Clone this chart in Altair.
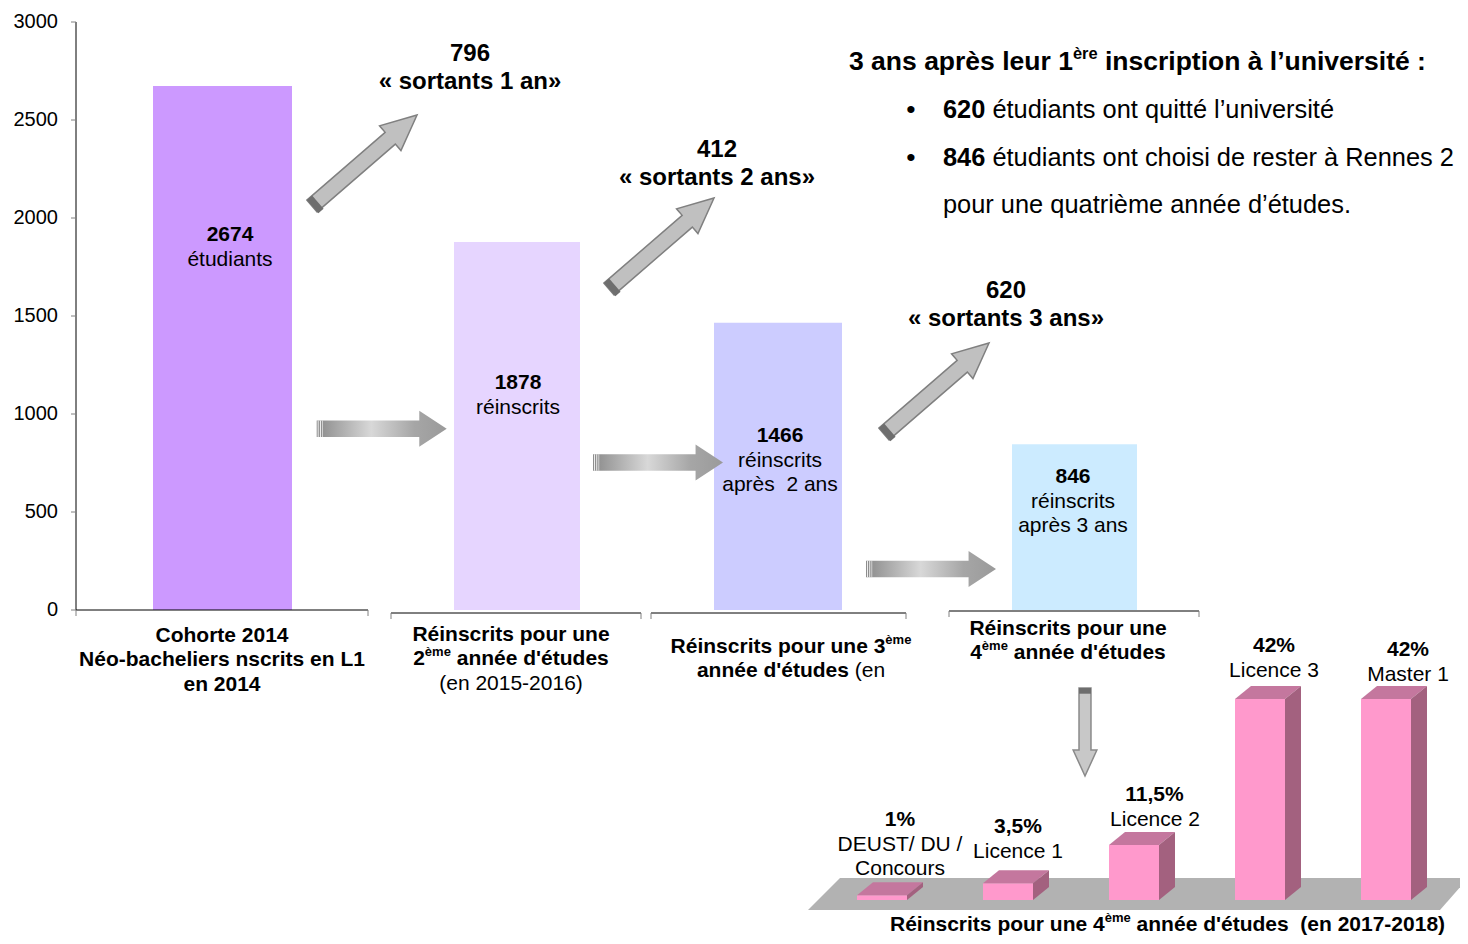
import unicodedata
import altair as alt
import pandas as pd

# ------------------------------------------------------------------ data
stage_values = [2674, 1878, 1466, 846]
stage_words = [["étudiants"], ["réinscrits"], ["réinscrits", "après\u00a0 2 ans"], ["réinscrits", "après 3 ans"]]
exit_values = [796, 412, 620]
exit_years = ["1 an", "2 ans", "3 ans"]
y_ticks = [0, 500, 1000, 1500, 2000, 2500, 3000]
level_names = [["DEUST/ DU /", "Concours"], ["Licence 1"], ["Licence 2"], ["Licence 3"], ["Master 1"]]
level_pcts = [1, 3.5, 11.5, 42, 42]
left_count = 620
stay_count = 846

# ------------------------------------------------------------------ styles / layout
FONT = "Liberation Sans"
stage_colors = ["#CC99FF", "#E6D5FF", "#CCCCFF", "#CCEBFF"]
BAR_X = [(153, 292), (454, 580), (714, 842), (1012, 1137)]
LVL_X = [857, 983, 1109, 1235, 1361]
LVL_W = 50
DEPTH_X = 16
PX_PER_PCT = 201 / 42
DEPTH_Y = 13 / PX_PER_PCT

X_SCALE = alt.Scale(domain=[76, 1460], nice=False, zero=False)
Y_MAIN = alt.Scale(domain=[-(936 - 610) / 0.196, (610 - 8) / 0.196], nice=False, zero=False)
Y_PCT = alt.Scale(domain=[-(936 - 900) / PX_PER_PCT, (900 - 8) / PX_PER_PCT], nice=False, zero=False)
Y_PX = alt.Scale(domain=[936, 8], nice=False, zero=False)

_REG = {" ": 278, "\u00a0": 278, "'": 191, "’": 222, "(": 333, ")": 333, ",": 278, "-": 333, ".": 278,
        "/": 278, ":": 278, "%": 889, "«": 556, "»": 556, "•": 350,
        "A": 667, "B": 667, "C": 722, "D": 722, "E": 667, "F": 611, "G": 778, "H": 722, "I": 278, "J": 500,
        "K": 667, "L": 556, "M": 833, "N": 722, "O": 778, "P": 667, "Q": 778, "R": 722, "S": 667, "T": 611,
        "U": 722, "V": 667, "W": 944, "X": 667, "Y": 667, "Z": 611,
        "a": 556, "b": 556, "c": 500, "d": 556, "e": 556, "f": 278, "g": 556, "h": 556, "i": 222, "j": 222,
        "k": 500, "l": 222, "m": 833, "n": 556, "o": 556, "p": 556, "q": 556, "r": 333, "s": 500, "t": 278,
        "u": 556, "v": 500, "w": 722, "x": 500, "y": 500, "z": 500}
_BOLD = {" ": 278, "\u00a0": 278, "'": 238, "’": 278, "(": 333, ")": 333, ",": 278, "-": 333, ".": 278,
         "/": 278, ":": 333, "%": 889, "«": 556, "»": 556, "•": 350,
         "A": 722, "B": 722, "C": 722, "D": 722, "E": 667, "F": 611, "G": 778, "H": 722, "I": 278, "J": 556,
         "K": 722, "L": 611, "M": 833, "N": 722, "O": 778, "P": 667, "Q": 778, "R": 722, "S": 667, "T": 611,
         "U": 722, "V": 667, "W": 944, "X": 667, "Y": 667, "Z": 611,
         "a": 556, "b": 611, "c": 556, "d": 611, "e": 556, "f": 333, "g": 611, "h": 611, "i": 278, "j": 278,
         "k": 556, "l": 278, "m": 889, "n": 611, "o": 611, "p": 611, "q": 611, "r": 389, "s": 556, "t": 333,
         "u": 611, "v": 556, "w": 778, "x": 556, "y": 556, "z": 500}


def tw(s, size, bold):
    tab = _BOLD if bold else _REG
    tot = 0
    for ch in s:
        if ch not in tab:
            ch = unicodedata.normalize("NFD", ch)[0]
        tot += tab.get(ch, 556)
    return tot * size / 1000


def rich(x, y, segs, size, align="center"):
    sup = size * 0.62
    sizes = [sup if k.endswith("s") else size for _, k in segs]
    widths = [tw(t, s, k.startswith("b")) for (t, k), s in zip(segs, sizes)]
    cur = x - sum(widths) / 2 if align == "center" else x
    rows = []
    for (t, k), s, w in zip(segs, sizes, widths):
        bold = k.startswith("b")
        tt = t.lstrip(" ")
        lead = tw(t[: len(t) - len(tt)], s, bold)
        yy = y - size * 0.32 if k.endswith("s") else y
        rows.append(dict(x=cur + lead, y=yy, t=tt, s=s, bold=bold))
        cur += w
    return rows


texts = []
# labels inside the main bars
BAR_LABEL_POS = [(230, 235), (518, 383), (780, 436), (1073, 477)]
for (lx, ly), v, words in zip(BAR_LABEL_POS, stage_values, stage_words):
    texts += rich(lx, ly, [(str(v), "b")], 21)
    for j, w in enumerate(words):
        texts += rich(lx, ly + 24.5 * (j + 1), [(w, "r")], 21)

# exits
EXIT_POS = [(470, 54), (717, 150), (1006, 291)]
for (lx, ly), v, yr in zip(EXIT_POS, exit_values, exit_years):
    texts += rich(lx, ly, [(str(v), "b")], 24)
    texts += rich(lx, ly + 27.5, [(f"« sortants {yr}»", "b")], 24)

# right block
S_R = 26.5
S_B = 25.4
texts += rich(849, 62, [("3 ans après leur 1", "b"), ("ère", "bs"), (" inscription à l’université :", "b")], S_R, "left")
texts += rich(911, 110, [("•", "r")], S_R)
texts += rich(911, 158, [("•", "r")], S_R)
texts += rich(943, 110, [(str(left_count), "b"), (" étudiants ont quitté l’université", "r")], S_B, "left")
texts += rich(943, 158, [(str(stay_count), "b"), (" étudiants ont choisi de rester à Rennes 2", "r")], S_B, "left")
texts += rich(943, 205, [("pour une quatrième année d’études.", "r")], S_B, "left")

# category labels
CAT_X = [222, 511, 791, 1068]
cat_lines = [
    [(636, [("Cohorte 2014", "b")]), (660, [("Néo-bacheliers nscrits en L1", "b")]), (685, [("en 2014", "b")])],
    [(635, [("Réinscrits pour une", "b")]), (659, [("2", "b"), ("ème", "bs"), (" année d'études", "b")]),
     (684, [("(en 2015-2016)", "r")])],
    [(647, [("Réinscrits pour une 3", "b"), ("ème", "bs")]), (671, [("année d'études", "b"), (" (en", "r")])],
    [(629, [("Réinscrits pour une", "b")]), (653, [("4", "b"), ("ème", "bs"), (" année d'études", "b")])],
]
for cx, lines in zip(CAT_X, cat_lines):
    for ly, segs in lines:
        texts += rich(cx, ly, segs, 21)

# level labels (bottom chart)
LVL_LABEL_POS = [(900, 820), (1018, 827), (1155, 795), (1274, 646), (1408, 650)]
for (lx, ly), p, names in zip(LVL_LABEL_POS, level_pcts, level_names):
    texts += rich(lx, ly, [(f"{p:g}%".replace(".", ","), "b")], 21)
    for j, nm in enumerate(names):
        texts += rich(lx, ly + 24.5 * (j + 1), [(nm, "r")], 21)
texts += rich(890, 925, [("Réinscrits pour une 4", "b"), ("ème", "bs"),
                         (" année d'études\u00a0 (en 2017-2018)", "b")], 21, "left")

tdf = pd.DataFrame(texts)


def X(f):
    return alt.X(f, type="quantitative", scale=X_SCALE, axis=None)


def YP(f):
    return alt.Y(f, type="quantitative", scale=Y_PX, axis=None)


def YM(f):
    return alt.Y(f, type="quantitative", scale=Y_MAIN, axis=None)


def text_layer(df, bold):
    return alt.Chart(df).mark_text(font=FONT, fontWeight="bold" if bold else "normal", align="left",
                                   baseline="middle", color="#000000").encode(
        x=X("x"), y=YP("y"), text="t:N", size=alt.Size("s:Q", scale=None))


# ------------------------------------------------------------------ main bars + value axis
bars_df = pd.DataFrame({"x0": [b[0] for b in BAR_X], "x1": [b[1] for b in BAR_X],
                        "v": stage_values, "zero": [0] * 4, "c": stage_colors})
main_bars = alt.Chart(bars_df).mark_rect().encode(
    x=X("x0"), x2="x1:Q", y=YM("v"), y2="zero:Q", fill=alt.Fill("c:N", scale=None))
axis_rule = alt.Chart(pd.DataFrame({"x": [76], "a": [0], "b": [y_ticks[-1]]})).mark_rule(
    color="#000000", strokeWidth=1).encode(x=X("x"), y=YM("a"), y2="b:Q")
tick_tbl = pd.DataFrame({"v": y_ticks, "lab": [str(t) for t in y_ticks], "xa": [71] * len(y_ticks),
                         "xb": [76] * len(y_ticks), "xl": [58] * len(y_ticks)})
axis_ticks = alt.Chart(tick_tbl).mark_rule(color="#808080", strokeWidth=1).encode(
    x=X("xa"), x2="xb:Q", y=YM("v"))
axis_labels = alt.Chart(tick_tbl).mark_text(font=FONT, fontSize=20, align="right", baseline="middle",
                                            color="#000000").encode(x=X("xl"), y=YM("v"), text="lab:N")
main_group = alt.layer(main_bars, axis_rule, axis_ticks, axis_labels)

# ------------------------------------------------------------------ 3D bars
front_df = pd.DataFrame({"x0": LVL_X, "x1": [x + LVL_W for x in LVL_X], "p": level_pcts, "zero": [0] * 5})
top_rows, side_rows = [], []
for i, (x0, p) in enumerate(zip(LVL_X, level_pcts)):
    x1 = x0 + LVL_W
    top_rows += [dict(b=i, x=x0, a=p, c=p), dict(b=i, x=x0 + DEPTH_X, a=p + DEPTH_Y, c=p),
                 dict(b=i, x=x1, a=p + DEPTH_Y, c=p), dict(b=i, x=x1 + DEPTH_X, a=p + DEPTH_Y, c=p + DEPTH_Y)]
    side_rows += [dict(b=i, x=x1, a=p, c=0), dict(b=i, x=x1 + DEPTH_X, a=p + DEPTH_Y, c=DEPTH_Y)]


def YC(f):
    return alt.Y(f, type="quantitative", scale=Y_PCT, axis=None)


front = alt.Chart(front_df).mark_rect(color="#FF99CC").encode(x=X("x0"), x2="x1:Q", y=YC("p"), y2="zero:Q")
tops = alt.Chart(pd.DataFrame(top_rows)).mark_area(color="#C4779E", opacity=1).encode(
    x=X("x"), y=YC("a"), y2="c:Q", detail="b:N")
sides = alt.Chart(pd.DataFrame(side_rows)).mark_area(color="#A3617F", opacity=1).encode(
    x=X("x"), y=YC("a"), y2="c:Q", detail="b:N")
bottom_group = alt.layer(front, tops, sides)

# ------------------------------------------------------------------ floor
floor_df = pd.DataFrame({"x": [808, 840, 1440, 1468], "a": [910, 878, 878, 878], "c": [910, 910, 910, 878]})
floor = alt.Chart(floor_df).mark_area(color="#B2B2B2", opacity=1).encode(x=X("x"), y=YP("a"), y2="c:Q")
floor_group = alt.layer(floor)

# ------------------------------------------------------------------ arrows
DIAG = "M -1 -0.112 L 0.49 -0.112 L 0.49 -0.235 L 1 0 L 0.49 0.235 L 0.49 0.112 L -1 0.112 Z"
DIAG_CAP = "M -1 -0.112 L -0.9 -0.112 L -0.9 0.14 L -1 0.14 Z"
diag_df = pd.DataFrame({"x": [364.5, 661.5, 936.5], "y": [160.5, 243.5, 388.5]})
diag = alt.Chart(diag_df).mark_point(shape=DIAG, size=139 ** 2, angle=319.1, filled=True, fill="#C0C0C0",
                                     stroke="#808080", strokeWidth=1.5, opacity=1).encode(x=X("x"), y=YP("y"))
diag_cap = alt.Chart(diag_df).mark_point(shape=DIAG_CAP, size=139 ** 2, angle=319.1, filled=True,
                                         fill="#6E6E6E", strokeWidth=0, opacity=1).encode(x=X("x"), y=YP("y"))

HOR = "M -1 -0.128 L 0.578 -0.128 L 0.578 -0.277 L 1 0 L 0.578 0.277 L 0.578 0.128 L -1 0.128 Z"
HOR_STRIPES = ("M -0.985 -0.128 L -0.97 -0.128 L -0.97 0.128 L -0.985 0.128 Z "
               "M -0.95 -0.128 L -0.935 -0.128 L -0.935 0.128 L -0.95 0.128 Z "
               "M -0.915 -0.128 L -0.905 -0.128 L -0.905 0.128 L -0.915 0.128 Z")
hor_df = pd.DataFrame({"x": [381.7, 658, 931], "y": [428.7, 462.5, 569]})
grad = alt.LinearGradient(gradient="linear", x1=0, x2=1, y1=0, y2=0,
                          stops=[alt.GradientStop(color="#8A8A8A", offset=0),
                                 alt.GradientStop(color="#D8D8D8", offset=0.42),
                                 alt.GradientStop(color="#A6A6A6", offset=0.75),
                                 alt.GradientStop(color="#9A9A9A", offset=1)])
hor = alt.Chart(hor_df).mark_point(shape=HOR, size=130 ** 2, filled=True, fill=grad, strokeWidth=0,
                                   opacity=1).encode(x=X("x"), y=YP("y"))
hor_str = alt.Chart(hor_df).mark_point(shape=HOR_STRIPES, size=130 ** 2, filled=True, fill="#F2F2F2",
                                       strokeWidth=0, opacity=1).encode(x=X("x"), y=YP("y"))

DOWN = "M -1 -0.136 L 0.41 -0.136 L 0.41 -0.27 L 1 0 L 0.41 0.27 L 0.41 0.136 L -1 0.136 Z"
DOWN_CAP = "M -1 -0.136 L -0.87 -0.136 L -0.87 0.136 L -1 0.136 Z"
down_df = pd.DataFrame({"x": [1085], "y": [732]})
down = alt.Chart(down_df).mark_point(shape=DOWN, size=88 ** 2, angle=90, filled=True, fill="#C8C8C8",
                                     stroke="#8A8A8A", strokeWidth=1.5, opacity=1).encode(x=X("x"), y=YP("y"))
down_cap = alt.Chart(down_df).mark_point(shape=DOWN_CAP, size=88 ** 2, angle=90, filled=True, fill="#6E6E6E",
                                         strokeWidth=0, opacity=1).encode(x=X("x"), y=YP("y"))

# ------------------------------------------------------------------ category brackets
seg_df = pd.DataFrame({"x0": [76, 391, 651, 949], "x1": [368, 641, 906, 1199], "y": [610, 613, 613, 611]})
segs = alt.Chart(seg_df).mark_rule(color="#000000", strokeWidth=1).encode(x=X("x0"), x2="x1:Q", y=YP("y"))
tick_df = pd.DataFrame({"x": [76, 368, 391, 641, 651, 906, 949, 1199],
                        "y": [610, 610, 613, 613, 613, 613, 611, 611]})
tick_df["y2"] = tick_df["y"] + 6
ticks = alt.Chart(tick_df).mark_rule(color="#808080", strokeWidth=1).encode(x=X("x"), y=YP("y"), y2="y2:Q")

front_group = alt.layer(segs, ticks, diag, diag_cap, hor, hor_str, down, down_cap,
                        text_layer(tdf[~tdf.bold], False), text_layer(tdf[tdf.bold], True))

chart = alt.layer(main_group, floor_group, bottom_group, front_group).resolve_scale(y="independent").properties(
    width=1384, height=928, autosize=alt.AutoSizeParams(type="none"),
    padding={"left": 68, "top": 0, "right": 0, "bottom": 0}, background="white",
).configure_view(strokeWidth=0)

chart.save("out.html", embed_options={"renderer": "svg", "actions": False})
